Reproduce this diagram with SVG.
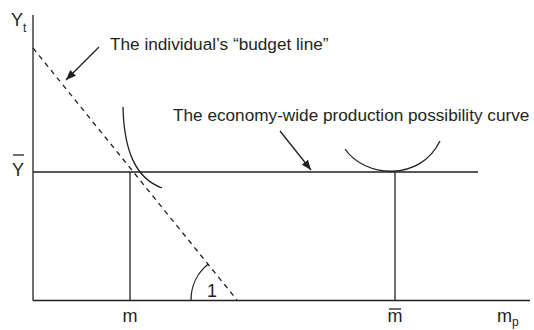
<svg xmlns="http://www.w3.org/2000/svg" width="534" height="330" viewBox="0 0 534 330">
<defs>
<style>
.ln{stroke:#231f20;stroke-width:1.3;fill:none}
.ds{stroke:#231f20;stroke-width:1.3;fill:none;stroke-dasharray:5 4.5}
.tx{font-family:"Liberation Sans",Arial,sans-serif;font-size:18px;fill:#231f20}
.lb{font-family:"Liberation Sans",Arial,sans-serif;font-size:17.2px;fill:#231f20}
.sb{font-family:"Liberation Sans",Arial,sans-serif;font-size:12px;fill:#231f20}
</style>
<marker id="ah" viewBox="0 0 10 8" refX="10" refY="4" markerWidth="10" markerHeight="8" markerUnits="userSpaceOnUse" orient="auto">
<path d="M0,0 L10,4 L0,8 Z" fill="#231f20"/>
</marker>
</defs>
<g id="axes">
<line class="ln" x1="33" y1="15" x2="33" y2="300.5"/>
<line class="ln" x1="33" y1="300.5" x2="530" y2="300.5"/>
<text class="tx" x="11" y="26">Y</text><text class="sb" x="23" y="32">t</text>
<text class="tx" x="497" y="322">m</text><text class="sb" x="512" y="326">p</text>
</g>
<g id="ybar">
<line class="ln" x1="33" y1="172" x2="478" y2="172"/>
<text class="tx" x="12" y="176">Y</text>
<line class="ln" x1="13" y1="155" x2="24" y2="155"/>
</g>
<g id="budget-line">
<line class="ds" x1="33" y1="48" x2="237" y2="300"/>
<path class="ln" d="M191,300.5 A46,46 0 0 1 208,264.3"/>
<text class="tx" x="207" y="297">1</text>
</g>
<g id="m-point">
<line class="ln" x1="130" y1="172" x2="130" y2="300"/>
<path class="ln" d="M123,107 C124,150 135,178 162,188"/>
<text class="tx" x="130" y="322" text-anchor="middle">m</text>
</g>
<g id="mbar-point">
<line class="ln" x1="395" y1="172" x2="395" y2="300"/>
<path class="ln" d="M345,149 C365,178 420,182 440,141"/>
<text class="tx" x="395" y="322" text-anchor="middle">m</text>
<line class="ln" x1="389" y1="309" x2="401" y2="309"/>
</g>
<g id="label-budget">
<text class="lb" x="110" y="50">The individual’s “budget line”</text>
</g>
<g id="label-ppc">
<text class="lb" x="173" y="121">The economy-wide production possibility curve</text>
</g>
<g id="connectors">
<line class="ln" x1="99" y1="47" x2="66" y2="80" marker-end="url(#ah)"/>
<line class="ln" x1="280" y1="131" x2="311" y2="170" marker-end="url(#ah)"/>
</g>
</svg>
